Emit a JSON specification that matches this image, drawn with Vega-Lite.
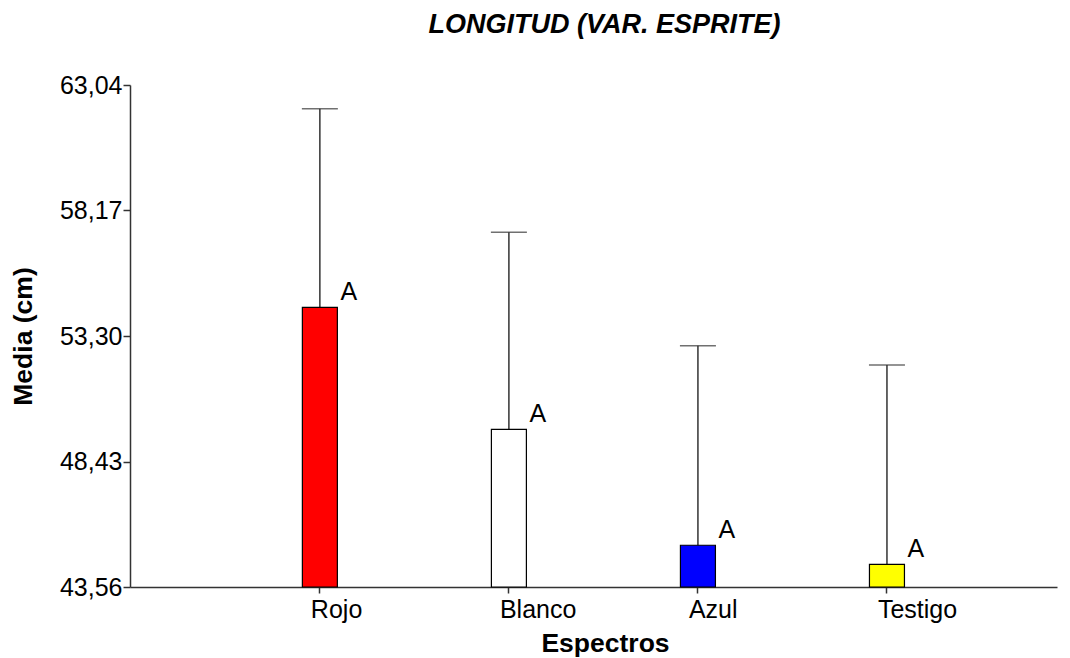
{
  "$schema": "https://vega.github.io/schema/vega-lite/v6.json",
  "autosize": {"type": "none"},
  "width": 927,
  "height": 502,
  "padding": {"left": 130, "top": 85, "right": 13, "bottom": 71},
  "background": "white",
  "title": {
    "text": "LONGITUD (VAR. ESPRITE)",
    "font": "Liberation Sans",
    "fontSize": 27,
    "fontWeight": "bold",
    "fontStyle": "italic",
    "color": "black",
    "anchor": "middle",
    "dx": 11,
    "offset": 34
  },
  "data": {
    "values": [
      {"espectro": "Rojo", "media": 54.41, "sup": 62.12, "letra": "A", "color": "#ff0000"},
      {"espectro": "Blanco", "media": 49.68, "sup": 57.33, "letra": "A", "color": "#ffffff"},
      {"espectro": "Azul", "media": 45.18, "sup": 52.92, "letra": "A", "color": "#0000ff"},
      {"espectro": "Testigo", "media": 44.44, "sup": 52.17, "letra": "A", "color": "#ffff00"}
    ]
  },
  "encoding": {
    "x": {
      "field": "espectro",
      "type": "nominal",
      "sort": ["Rojo", "Blanco", "Azul", "Testigo"],
      "scale": {"paddingInner": 0, "paddingOuter": 0.452, "align": 0.558},
      "axis": {
        "title": "Espectros",
        "titleFont": "Liberation Sans",
        "titleFontSize": 26.5,
        "titleFontWeight": "bold",
        "titleColor": "black",
        "titlePadding": 8,
        "titleX": 475,
        "labelFont": "Liberation Sans",
        "labelFontSize": 25,
        "labelColor": "black",
        "labelAngle": 0,
        "labelAlign": "left",
        "labelOffset": -9,
        "labelPadding": 4,
        "tickSize": 6,
        "tickColor": "#333",
        "domainColor": "#333",
        "domainWidth": 1.5,
        "tickWidth": 1.5,
        "grid": false
      }
    }
  },
  "layer": [
    {
      "mark": {"type": "rule", "color": "#333", "strokeWidth": 1.5},
      "encoding": {
        "y": {"field": "media", "type": "quantitative"},
        "y2": {"field": "sup"}
      }
    },
    {
      "mark": {"type": "bar", "width": 35, "stroke": "black", "strokeWidth": 1.2},
      "encoding": {
        "y": {
          "field": "media",
          "type": "quantitative",
          "scale": {"domain": [43.56, 63.04], "zero": false, "nice": false},
          "axis": {
            "title": "Media (cm)",
            "titleFont": "Liberation Sans",
            "titleFontSize": 26.5,
            "titleFontWeight": "bold",
            "titleColor": "black",
            "titlePadding": 22,
            "values": [43.56, 48.43, 53.30, 58.17, 63.04],
            "labelExpr": "replace(format(datum.value, '.2f'), '.', ',')",
            "labelFont": "Liberation Sans",
            "labelFontSize": 25,
            "labelColor": "black",
            "labelPadding": 1,
            "tickSize": 7,
            "tickColor": "#333",
            "tickWidth": 1.5,
            "domainColor": "#333",
            "domainWidth": 1.5,
            "grid": false
          }
        },
        "y2": {"datum": 43.56},
        "fill": {"field": "color", "type": "nominal", "scale": null}
      }
    },
    {
      "mark": {"type": "tick", "orient": "horizontal", "size": 36, "thickness": 1.5, "color": "#333"},
      "encoding": {
        "y": {"field": "sup", "type": "quantitative"}
      }
    },
    {
      "mark": {"type": "text", "font": "Liberation Sans", "fontSize": 25, "color": "black", "align": "center", "baseline": "alphabetic", "xOffset": 29, "yOffset": -7},
      "encoding": {
        "y": {"field": "media", "type": "quantitative"},
        "text": {"field": "letra"}
      }
    }
  ],
  "config": {
    "view": {"stroke": null}
  }
}
